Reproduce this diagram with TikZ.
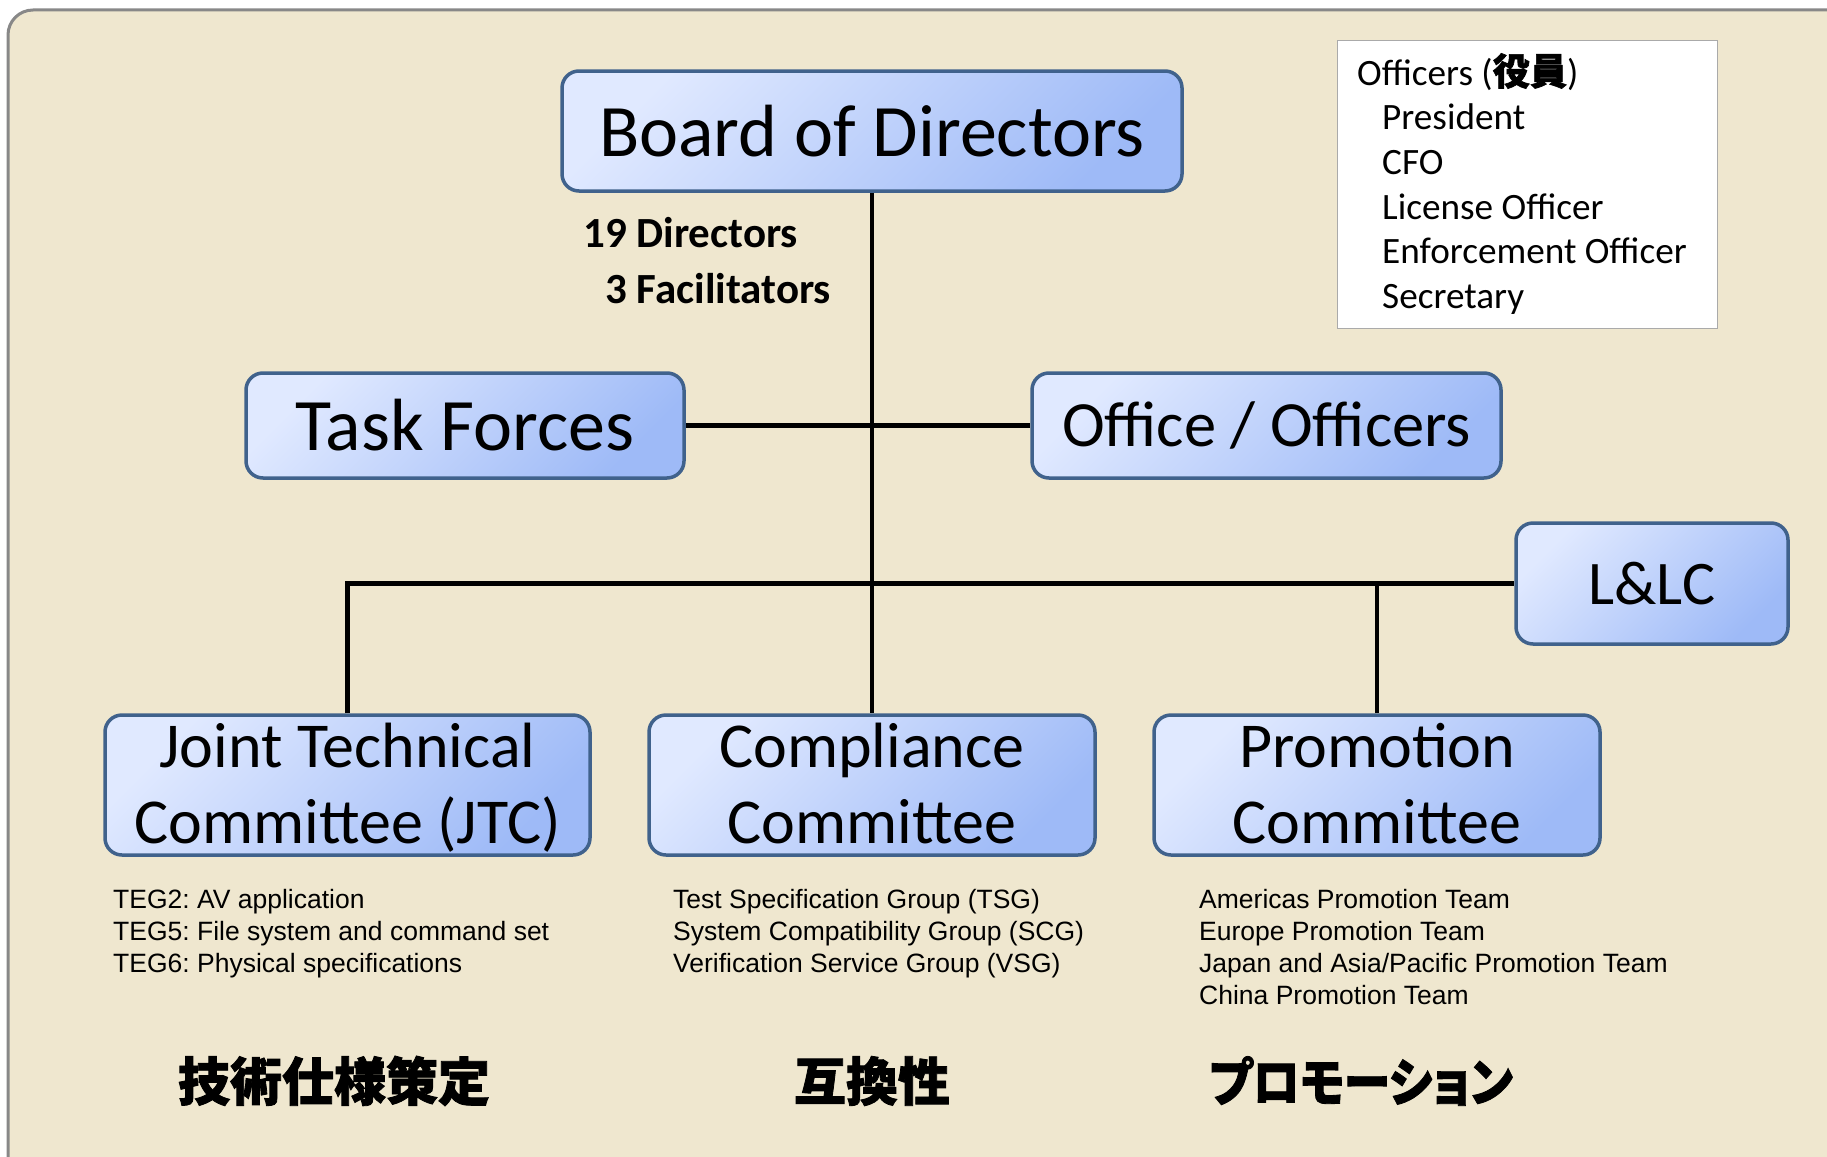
\documentclass[tikz,border=0pt]{standalone}
\usepackage{fontspec}
\usepackage{graphicx}
\setmainfont{Carlito}
\newfontfamily\arialfont{Liberation Sans}
\newfontfamily\cjkfont{Noto Sans CJK JP}[BoldFeatures={FakeBold=1.6}]

\definecolor{panelbg}{RGB}{239,231,207}
\definecolor{panelrule}{RGB}{136,136,136}
\definecolor{boxrule}{RGB}{64,98,140}
\definecolor{boxlight}{RGB}{224,233,255}
\definecolor{boxdark}{RGB}{158,186,247}
\definecolor{listrule}{RGB}{170,170,170}

% two-line box labels with fixed first-line height and last-line depth
\newcommand\twolines[2]{\rule{0pt}{52pt}\smash{#1}\\\smash{#2}\rule[-12pt]{0pt}{12pt}}

\tikzset{
  orgbox/.style={draw=boxrule, line width=3.5pt, rounded corners=17pt,
    top color=boxlight, bottom color=boxdark, shading angle=45,
    inner sep=0pt, align=center, text=black},
  link/.style={draw=black, line width=4.5pt},
  huge label/.style={font=\fontsize{74}{80}\selectfont},
  mid label/.style={font=\fontsize{64.5}{76}\selectfont},
  cmt label/.style={font=\fontsize{64}{76}\selectfont},
  count label/.style={anchor=base west, inner sep=0pt, font=\bfseries\fontsize{43}{50}\selectfont},
  officer/.style={anchor=base west, inner sep=0pt, font=\fontsize{37.2}{44}\selectfont},
  group/.style={anchor=base west, inner sep=0pt, font=\arialfont\frenchspacing\fontsize{26.5}{32}\selectfont},
  area/.style={anchor=center, inner sep=0pt, font=\cjkfont\bfseries\fontsize{52}{60}\selectfont}
}

\begin{document}
\frenchspacing
\begin{tikzpicture}[x=1pt, y=-1pt]
  \useasboundingbox (0,0) rectangle (1827,1156);
  \clip (0,0) rectangle (1827,1156);
  \fill[white] (0,0) rectangle (1827,1156);

  % panel
  \draw[fill=panelbg, draw=panelrule, line width=3pt, rounded corners=25pt]
    (8,10) rectangle (1900,1240);

  % officers list
  \node[draw=listrule, fill=white, line width=1.2pt, inner sep=0pt,
        minimum width=380pt, minimum height=288pt, anchor=north west]
        (offbox) at (1337,40) {};
  \node[officer] (offhead) at (1357,85) {Officers ({\cjkfont\bfseries 役員})};
  \foreach \t [count=\i] in {President, CFO, License Officer, Enforcement Officer, Secretary}
    \node[officer] (officer\i) at (1382,85+44.7*\i) {\t};

  % boxes
  \node[orgbox, huge label, minimum width=620pt, minimum height=120pt]
    (board) at (872,131) {Board of Directors};
  \node[orgbox, huge label, minimum width=438pt, minimum height=105pt]
    (tf) at (465,425.5) {Task Forces};
  \node[orgbox, mid label, minimum width=469pt, minimum height=105pt]
    (off) at (1266.5,425.5) {Office / Officers};
  \node[orgbox, font=\fontsize{62}{70}\selectfont, minimum width=272pt, minimum height=121pt]
    (llc) at (1652,583.5) {L\&LC};
  \node[orgbox, cmt label, minimum width=485pt, minimum height=140pt]
    (jtc) at (347.5,785) {\twolines{Joint Technical}{Committee (JTC)}};
  \node[orgbox, cmt label, minimum width=446pt, minimum height=140pt]
    (comp) at (872,785) {\twolines{Compliance}{Committee}};
  \node[orgbox, cmt label, minimum width=446pt, minimum height=140pt]
    (prom) at (1377,785) {\twolines{Promotion}{Committee}};

  % board composition
  \node[count label] (dirs) at (583,247) {19 Directors};
  \node[count label] (facs) at (605,303) {3 Facilitators};

  % connectors
  \draw[link] (board.south) -- (comp.north);
  \draw[link] (tf.east) -- (off.west);
  \draw[link] (jtc.north) |- (llc.west);
  \draw[link] (prom.north) -- (prom.north |- llc.west);

  % working groups
  \foreach \t [count=\i] in {TEG2: AV application, TEG5: File system and command set, TEG6: Physical specifications}
    \node[group] (jtcg\i) at (113,876+32*\i) {\t};
  \foreach \t [count=\i] in {Test Specification Group (TSG), System Compatibility Group (SCG), Verification Service Group (VSG)}
    \node[group] (compg\i) at (673,876+32*\i) {\t};
  \foreach \t [count=\i] in {Americas Promotion Team, Europe Promotion Team, Japan and Asia/Pacific Promotion Team, China Promotion Team}
    \node[group] (promg\i) at (1199,876+32*\i) {\t};

  % areas
  \node[area] (jtcarea) at (334,1081) {技術仕様策定};
  \node[area] (comparea) at (872,1081) {互換性};
  \node[area] (promarea) at (1361,1081)
    {\scalebox{0.9}[1]{\addfontfeatures{RawFeature=+palt}プロモーション}};
\end{tikzpicture}
\end{document}
